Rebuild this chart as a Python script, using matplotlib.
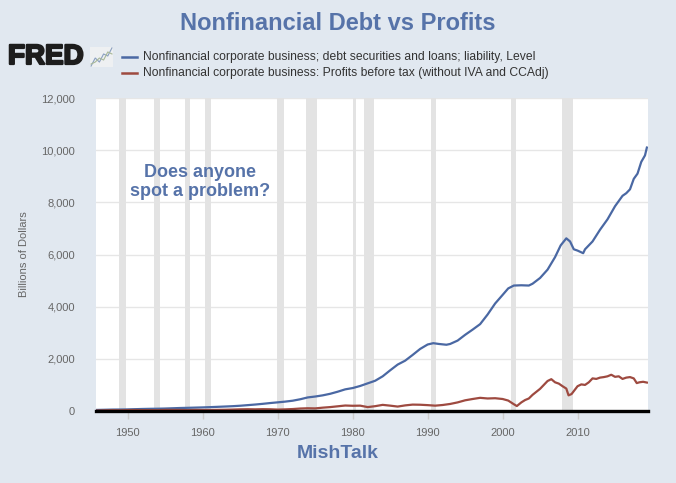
import matplotlib
matplotlib.use("Agg")
import matplotlib.pyplot as plt
import matplotlib.patheffects as pe
from matplotlib.lines import Line2D

# =====================================================
# Data (billions of dollars)
# =====================================================

debt_t = [1945.75, 1947, 1948, 1949, 1950, 1951, 1952, 1953, 1954, 1955,
          1956, 1957, 1958, 1959, 1960, 1961, 1962, 1963, 1964, 1965,
          1966, 1967, 1968, 1969, 1970, 1971, 1972, 1973, 1974, 1975,
          1976, 1977, 1978, 1979, 1980, 1981, 1982, 1983, 1984, 1985,
          1986, 1987, 1988, 1989, 1990, 1990.75, 1991.5, 1992.5, 1993, 1994,
          1995, 1996, 1997, 1998, 1999, 2000, 2000.75, 2001.5, 2002.5, 2003.5,
          2004, 2005, 2006, 2007, 2007.75, 2008.5, 2009, 2009.5, 2010, 2010.75,
          2011, 2012, 2013, 2014, 2015, 2016, 2016.5, 2017, 2017.5, 2018,
          2018.5, 2019, 2019.25]
debt_v = [40, 48, 55, 57, 62, 70, 78, 84, 88, 95,
          105, 115, 122, 130, 138, 148, 160, 172, 185, 202,
          225, 248, 275, 305, 332, 360, 395, 450, 520, 555,
          600, 660, 740, 830, 880, 960, 1060, 1160, 1330, 1560,
          1780, 1930, 2150, 2380, 2550, 2600, 2570, 2540, 2570, 2700,
          2920, 3120, 3330, 3700, 4120, 4450, 4700, 4810, 4820, 4810,
          4880, 5100, 5420, 5900, 6350, 6620, 6500, 6200, 6150, 6050,
          6200, 6500, 6950, 7350, 7850, 8250, 8350, 8500, 8900, 9100,
          9550, 9800, 10100]

profit_t = [1945.75, 1947, 1948, 1949, 1950, 1951, 1952, 1953, 1954, 1955,
            1956, 1957, 1958, 1959, 1960, 1961, 1962, 1963, 1964, 1965,
            1966, 1967, 1968, 1969, 1970, 1971, 1972, 1973, 1974, 1975,
            1976, 1977, 1978, 1979, 1980, 1981, 1982, 1983, 1984, 1985,
            1986, 1987, 1988, 1989, 1990, 1991, 1992, 1993, 1994, 1995,
            1996, 1997, 1998, 1999, 2000, 2000.75, 2001.5, 2001.9, 2002.5, 2003,
            2003.5, 2004, 2005, 2005.5, 2006, 2006.5, 2007, 2007.5, 2008, 2008.5,
            2008.8, 2009.2, 2009.6, 2010, 2010.5, 2011, 2011.5, 2012, 2012.5, 2013,
            2013.5, 2014, 2014.5, 2015, 2015.5, 2016, 2016.5, 2017, 2017.5, 2017.9,
            2018.25, 2018.75, 2019.25]
profit_v = [15, 25, 30, 25, 35, 38, 33, 34, 32, 42,
            41, 40, 33, 42, 39, 38, 44, 48, 55, 64,
            68, 64, 70, 66, 55, 63, 75, 95, 105, 100,
            128, 150, 180, 210, 200, 205, 150, 185, 235, 205,
            170, 215, 245, 240, 225, 205, 230, 270, 330, 410,
            460, 505, 480, 490, 460, 400, 260, 190, 330, 420,
            480, 620, 850, 1000, 1150, 1220, 1100, 1050, 950, 860,
            600, 650, 800, 950, 1020, 1000, 1100, 1250, 1230, 1280,
            1300, 1330, 1390, 1310, 1330, 1230, 1280, 1300, 1250, 1070,
            1100, 1120, 1090]

# NBER recessions (start, end)
recessions = [(1948.83, 1949.75), (1953.5, 1954.33), (1957.58, 1958.25),
              (1960.25, 1961.08), (1969.92, 1970.83), (1973.83, 1975.17),
              (1980.0, 1980.5), (1981.5, 1982.83), (1990.5, 1991.17),
              (2001.17, 2001.83), (2007.92, 2009.42)]

x_ticks = [1950, 1960, 1970, 1980, 1990, 2000, 2010]
y_ticks = [0, 2000, 4000, 6000, 8000, 10000, 12000]

debt_label = "Nonfinancial corporate business; debt securities and loans; liability, Level"
profit_label = "Nonfinancial corporate business: Profits before tax (without IVA and CCAdj)"

# =====================================================
# Style
# =====================================================

bg = "#e1e8f0"
accent = "#5673a9"
blue = "#4a68a3"
red = "#9e4a40"
tick_gray = "#666666"

plt.rcParams['font.family'] = ['Liberation Sans', 'DejaVu Sans']

fig = plt.figure(figsize=(6.76, 4.83), dpi=100, facecolor=bg)
ax = fig.add_axes([96/676, 1 - 411/483, (648-96)/676, (411-98)/483])
ax.set_facecolor("white")

# recession bars
for start, end in recessions:
    ax.axvspan(start, end, color="#e3e3e3", lw=0, zorder=1)

# lines
ax.plot(debt_t, debt_v, color=blue, lw=1.6, zorder=3)
ax.plot(profit_t, profit_v, color=red, lw=1.6, zorder=3)

# =====================================================
# Axes
# =====================================================

ax.set_xlim(1945.75, 2019.4)
ax.set_ylim(0, 12000)

ax.set_yticks(y_ticks)
ax.set_yticklabels([f"{v:,}" for v in y_ticks])
ax.set_xticks(x_ticks)

ax.yaxis.grid(True, color="#e6e6e6", lw=1, zorder=0)
ax.set_axisbelow(True)

for side in ["top", "right", "left"]:
    ax.spines[side].set_visible(False)
ax.spines["bottom"].set_color("black")
ax.spines["bottom"].set_linewidth(2.4)
ax.spines["bottom"].set_zorder(4)

ax.tick_params(axis="y", length=0, pad=15, labelsize=8, labelcolor=tick_gray)
ax.tick_params(axis="x", length=6, width=1, color="#cccccc", pad=6,
               labelsize=8, labelcolor=tick_gray)

ax.set_ylabel("Billions of Dollars", fontsize=8, color=tick_gray, labelpad=9)

# annotation
ax.text(200/676, 1 - 182/483, "Does anyone\nspot a problem?", transform=fig.transFigure,
        ha="center", va="center", fontsize=13, fontweight="bold",
        color=accent, linespacing=1.2)

# =====================================================
# Header
# =====================================================

fig.text(0.5, 1 - 23/483, "Nonfinancial Debt vs Profits", ha="center", va="center",
         fontsize=17, fontweight="bold", color=accent)

fig.text(8/676, 1 - 57/483, "FRED", ha="left", va="center", fontsize=20,
         fontweight="bold", color="#1d1d1d",
         path_effects=[pe.withStroke(linewidth=1.6, foreground="#1d1d1d")])

# small FRED chart icon
icon = fig.add_axes([90/676, 1 - 67/483, 23/676, 20/483])
icon.set_facecolor("#eef0f2")
icon.plot([0, 1, 2, 3, 4, 5], [0, 2, 1, 3, 2.5, 4.5], color="#8aa0c0", lw=0.8)
icon.plot([0, 1, 2, 3, 4, 5], [0.5, 1, 2, 1.5, 3.5, 3], color="#a8b898", lw=0.8)
icon.set_xticks([])
icon.set_yticks([])
for s in icon.spines.values():
    s.set_visible(False)

# legend
for y, col, label in [(57, blue, debt_label), (73, red, profit_label)]:
    yf = 1 - y/483
    fig.add_artist(Line2D([122/676, 137/676], [yf, yf], color=col, lw=1.8,
                          transform=fig.transFigure))
    fig.text(143/676, yf, label, ha="left", va="center", fontsize=8.75,
             color="#333333")

# footer
fig.text(338/676, 1 - 454/483, "MishTalk", ha="center", va="center",
         fontsize=14, fontweight="bold", color=accent)

fig.savefig("out.png", dpi=100, facecolor=bg)
